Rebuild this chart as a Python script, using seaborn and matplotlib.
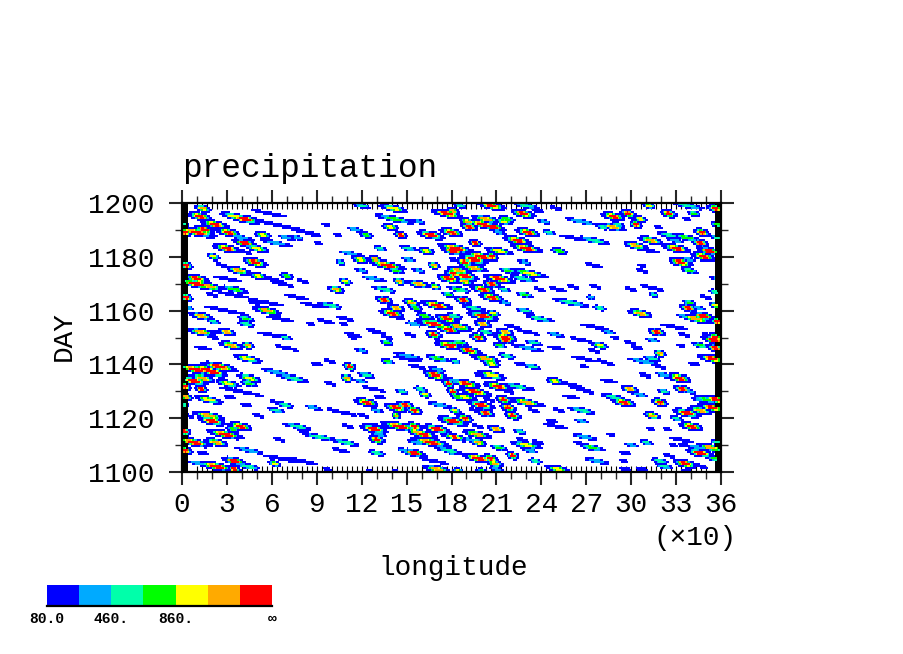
import numpy as np
import matplotlib
matplotlib.use("Agg")
import matplotlib.pyplot as plt
from matplotlib.colors import ListedColormap
import seaborn as sns

sns.set_theme(style="white")
plt.rcParams["font.family"] = ["Liberation Mono", "DejaVu Sans Mono"]

# precipitation cells: centre longitude, centre day, half length (deg), peak colour level
nw_lon = [14,12,35,42,22,15,10,31,2,2, 42,30,50,54,21,49,38,51,70,10, 10,19,3,35,3,57,13,43,21,43, 13,30,69,59,54,70,83,89,63,70, 77,40,39,27,30,59,67,81,20,34, 77,57,48,88,99,30,65,96,109,86, 108,22,59,114,130,137,5,106,96,120, 91,104,141,142,158,177,139,146,166,180, 116,123,132,151,163,181,181,113,119,129, 151,137,143,120,158,168,181,128,109,103, 145,135,158,169,178,184,135,153,178,170, 143,156,140,162,177,168,155,168,178,184, 168,146,126]
nw_day = [1198,1195,1195,1194,1192,1190,1189,1189,1192,1189, 1185,1183,1183,1188,1180,1178,1175,1173,1173,1172, 1170,1169,1177,1168,1165,1160,1158,1157,1156,1155, 1152,1152,1150,1196,1193,1191,1189,1188,1185,1187, 1187,1187,1182,1177,1172,1172,1170,1171,1166,1166, 1165,1163,1163,1162,1162,1160,1157,1156,1157,1155, 1155,1152,1151,1151,1152,1150,1161,1178,1192,1199, 1185,1188,1198,1194,1193,1196,1191,1188,1188,1189, 1190,1188,1183,1183,1182,1183,1182,1181,1179,1179, 1179,1177,1175,1175,1175,1177,1174,1172,1171,1168, 1171,1168,1170,1169,1172,1168,1164,1163,1166,1162, 1161,1161,1159,1158,1157,1155,1155,1151,1153,1154, 1156,1157,1153]
nw_len = [4,6,7,8,7,5,10,6,2,3, 6,7,6,4,3,6,6,4,3,6, 10,6,3,7,3,7,6,4,3,4, 7,4,3,9,9,9,7,3,8,4, 3,6,6,3,7,6,6,3,3,8, 6,9,3,6,6,11,7,4,4,2, 2,4,7,4,4,3,2,2,2,4, 2,2,7,10,3,8,4,3,7,6, 4,3,3,4,4,4,6,6,4,3, 3,9,4,3,3,3,4,6,3,4, 3,6,6,3,6,3,4,4,3,8, 4,3,6,4,6,9,4,4,6,3, 3,2,2]
nw_lvl = [6,7,5,7,7,7,7,7,3,7, 7,7,5,5,5,7,6,5,4,7, 7,6,7,4,7,6,6,4,3,3, 6,6,3,1,1,1,1,1,2,2, 2,2,1,1,1,1,1,1,1,1, 1,1,1,1,3,1,1,1,1,1, 1,1,1,1,1,1,2,3,1,3, 1,1,5,4,2,7,5,7,7,7, 2,4,3,3,5,7,7,2,5,6, 2,7,4,2,2,6,7,2,5,6, 6,3,6,5,7,4,7,6,4,7, 6,4,7,4,7,7,2,7,7,5, 3,1,1]

ne_lon = [207,186,230,181,228,250,238,191,203,217, 215,201,192,208,181,231,245,212,224,261, 275,242,267,288,281,288,291,298,306,303, 325,342,337,318,325,337,347,357,356,338, 312,196,183,182,212,230,252,200,195,207, 189,181,185,195,189,181,189,218,232,212, 228,185,201,207,215,229,239,251,261,276, 229,275,207,188,216,260,273,279,195,208, 229,239,201,201,182,185,203,216,221,231, 250,198,216,275,285,289,317,328,335,306, 315,300,310,318,307,307,303,313,313,330, 329,346,352,348,333,339,338,357,339,338, 345,356,350,356,348,343,335,357,356,357, 350]
ne_day = [1199,1199,1199,1197,1196,1198,1197,1193,1194,1194, 1193,1192,1191,1191,1189,1189,1189,1189,1186,1187, 1186,1193,1193,1195,1191,1191,1192,1196,1194,1192, 1196,1196,1194,1191,1188,1187,1189,1192,1198,1199, 1199,1185,1183,1182,1182,1183,1182,1180,1179,1180, 1178,1179,1175,1176,1173,1172,1171,1175,1174,1172, 1172,1168,1168,1170,1168,1166,1168,1168,1169,1169, 1178,1177,1165,1164,1163,1163,1165,1161,1161,1159, 1160,1157,1158,1155,1158,1154,1152,1152,1154,1152, 1151,1150,1150,1154,1152,1150,1152,1154,1151,1159, 1166,1168,1169,1168,1175,1177,1184,1186,1182,1183, 1186,1185,1182,1180,1178,1175,1179,1187,1163,1161, 1161,1162,1165,1167,1158,1157,1158,1156,1150,1172, 1151]
ne_len = [7,3,6,3,6,3,3,4,7,4, 4,8,4,6,4,6,3,3,7,7, 8,3,8,6,3,6,3,4,3,3, 4,3,2,2,6,7,4,3,4,8, 3,3,9,4,7,8,4,8,7,3, 4,2,6,7,7,2,4,4,9,8, 7,6,6,4,3,4,3,4,3,3, 3,4,6,4,3,9,2,3,6,3, 4,7,8,4,4,7,4,4,4,6, 4,4,6,7,3,2,4,7,3,6, 2,3,3,3,3,2,6,6,4,7, 4,4,6,6,6,4,3,3,3,4, 3,3,3,3,6,8,3,3,4,3, 2]
ne_lvl = [7,3,3,6,7,1,1,6,6,4, 5,7,7,7,6,7,3,2,7,1, 3,2,2,7,3,6,3,7,5,7, 7,4,1,1,3,4,7,4,7,3, 5,7,7,7,5,7,4,7,7,7, 7,1,6,6,7,7,6,4,5,7, 3,3,7,7,3,4,1,1,1,1, 2,1,7,7,2,3,2,3,3,5, 3,3,7,6,3,6,3,6,1,1, 2,7,7,1,2,1,7,1,1,6, 3,1,1,1,1,1,6,6,1,7, 2,7,7,7,7,4,2,3,4,7, 2,5,1,3,7,6,2,7,7,2, 1]

sw_lon = [21,69,33,44,14,70,44,21,9,16, 25,21,14,8,13,2,31,45,45,63, 74,40,18,3,2,32,63,69,43,63, 88,101,18,20,4,39,77,51,29,2, 34,92,109,65,81,8,23,2,45,14, 106,130,65,80,35,62,23,12,44,35, 99,90,112,110,123,120,137,99,119,128, 132,123,109,121,130,132,111,128,130,131, 143,149,155,143,145,155,170,156,161,137, 151,150,157,171,169,170,178,184,183,178, 181,184,162,159,147,172,182,180,182,166, 156,178,155,168,148,170,97,126,143,114, 168,152,44]
sw_day = [1150,1150,1147,1147,1146,1146,1142,1140,1138,1138, 1139,1137,1135,1134,1131,1132,1133,1135,1133,1137, 1135,1130,1127,1128,1125,1128,1126,1125,1125,1123, 1124,1123,1121,1119,1121,1117,1117,1121,1114,1115, 1116,1113,1111,1112,1115,1111,1111,1108,1108,1107, 1108,1107,1105,1104,1104,1103,1102,1103,1102,1101, 1141,1140,1139,1135,1136,1145,1148,1133,1134,1131, 1128,1126,1122,1121,1123,1117,1117,1116,1112,1114, 1124,1125,1123,1121,1117,1117,1116,1115,1114,1141, 1143,1142,1139,1142,1136,1138,1147,1148,1141,1133, 1130,1128,1129,1131,1130,1125,1123,1119,1113,1111, 1111,1108,1107,1104,1108,1101,1101,1100,1100,1150, 1151,1151,1125]
sw_len = [3,3,6,3,4,6,7,4,9,7, 9,7,6,7,3,3,6,6,4,7, 8,11,7,3,2,3,3,4,3,4, 4,3,8,7,3,6,7,3,9,3, 3,9,7,3,3,9,6,4,7,3, 4,4,9,8,6,3,9,6,6,3, 3,3,3,3,4,3,3,3,3,6, 3,6,6,3,3,7,3,7,4,4, 6,4,4,2,9,4,7,4,7,3, 7,7,4,6,6,4,7,2,2,3, 3,3,3,3,3,6,3,6,3,10, 4,7,6,7,3,7,2,2,2,2, 3,3,2]
sw_lvl = [1,1,6,6,1,1,5,1,7,7, 7,7,6,7,7,7,5,5,4,2, 3,1,5,6,3,1,1,3,1,3, 2,1,6,7,1,7,3,1,7,7, 4,3,3,1,1,7,6,7,2,1, 1,3,1,1,7,5,7,2,3,7, 1,1,7,6,3,2,4,1,2,1, 1,7,1,1,2,1,1,7,7,2, 7,7,7,6,7,7,7,6,7,4, 2,1,1,4,7,2,7,4,3,7, 7,4,5,3,3,2,5,7,7,7, 2,3,7,1,2,6,1,1,1,1, 5,1,1]

se_lon = [198,216,186,181,192,212,235,231,279,275, 267,250,314,289,299,304,319,333,355,346, 356,314,308,319,354,342,268,281,286,182, 203,217,207,226,234,269,199,207,183,190, 211,224,232,249,257,266,285,309,322,332, 299,322,334,339,181,196,189,205,218,215, 230,239,260,271,288,295,305,319,200,218, 182,203,221,196,235,267,252,314,337,354, 346,357,350,345,330,181,189,198,210,340, 267,250,247,226,324,182,197,186,198,192, 269,212,230,238,232,274,264,300,310,333, 335,345,353,346,357,221,198,206,180,236, 209,210,251,277,296,295,319,325,336,355, 322,296,307,201,185,256,339,347,227,286, 328,313]
se_day = [1150,1149,1148,1147,1145,1147,1148,1146,1147,1145, 1149,1146,1149,1150,1148,1146,1144,1147,1149,1147, 1146,1142,1141,1139,1142,1140,1142,1141,1140,1141, 1142,1143,1140,1140,1139,1139,1136,1136,1134,1133, 1132,1132,1131,1134,1133,1131,1134,1136,1136,1135, 1131,1130,1131,1130,1130,1130,1128,1127,1130,1127, 1126,1125,1128,1130,1128,1126,1129,1126,1125,1124, 1123,1122,1121,1123,1123,1123,1123,1121,1122,1124, 1123,1127,1127,1127,1120,1119,1120,1117,1116,1117, 1119,1117,1119,1115,1116,1113,1114,1112,1111,1112, 1113,1109,1110,1111,1108,1109,1111,1110,1111,1112, 1110,1109,1109,1107,1111,1106,1105,1105,1107,1104, 1103,1101,1101,1104,1107,1104,1104,1106,1103,1105, 1102,1101,1101,1100,1100,1100,1100,1102,1112,1114, 1110,1116]
se_len = [3,4,4,3,6,3,4,8,4,3, 6,4,3,2,3,3,3,2,6,4, 4,4,8,3,7,3,6,3,2,2, 7,4,4,3,4,2,3,7,6,7, 7,7,3,4,7,6,4,3,4,6, 4,3,4,3,3,8,6,3,3,4, 8,3,4,3,6,6,4,4,7,4, 3,4,4,3,3,7,3,4,7,7, 6,7,6,3,3,8,4,3,4,6, 3,6,3,3,2,7,7,3,4,3, 6,4,8,3,4,6,2,3,3,6, 3,6,7,7,3,3,8,4,2,3, 4,3,6,6,3,2,4,3,6,3, 4,3,3,3,3,6,4,3,3,2, 2,2]
se_lvl = [7,7,4,7,7,4,3,2,5,1, 1,1,2,1,1,1,6,1,7,4, 7,3,2,1,7,1,1,1,1,3, 6,3,5,1,3,1,1,5,2,7, 7,3,1,5,1,1,1,1,2,7, 6,3,7,2,7,7,5,1,1,7, 6,1,1,1,3,7,2,7,7,7, 5,7,7,1,1,3,1,6,7,7, 6,7,4,2,3,7,7,1,6,7, 2,1,1,3,1,5,6,1,6,2, 2,4,5,1,2,4,1,2,3,1, 1,2,6,7,3,7,7,7,2,3, 6,2,5,2,1,1,3,1,7,4, 3,1,1,5,6,1,1,1,1,1, 1,1]

lon_major = [0, 30, 60, 90, 120, 150, 180, 210, 240, 270, 300, 330, 360]
lon_labels = ["0", "3", "6", "9", "12", "15", "18", "21", "24", "27", "30", "33", "36"]
day_major = [1100, 1120, 1140, 1160, 1180, 1200]
level_colors = ["#0000ff", "#00aaff", "#00ffaa", "#00ff00", "#ffff00", "#ffaa00", "#ff0000"]
level_ticklabels = ["80.0", "460.", "860.", "\u221e"]
level_tickpos = [0, 2, 4, 7]

CELL_DAY = 0.75
n_rows, n_cols = int(100 / CELL_DAY), 360
day_to_row = lambda d: (1200 - np.asarray(d, float)) / CELL_DAY

field = np.zeros((n_rows, n_cols), dtype=float)
rows, cols = np.mgrid[0:n_rows, 0:n_cols]
lon_c = cols + 0.5
day_c = 1200 - (rows + 0.5) * CELL_DAY
for lons, days, lens, lvls in [(nw_lon, nw_day, nw_len, nw_lvl), (ne_lon, ne_day, ne_len, ne_lvl),
                               (sw_lon, sw_day, sw_len, sw_lvl), (se_lon, se_day, se_len, se_lvl)]:
    for lo, da, le, pk in zip(lons, days, lens, lvls):
        dl = (lon_c - lo) / (le * 1.35 + 0.5)
        hh = 0.65 + 0.14 * pk
        dd = (day_c - da + 0.11 * (lon_c - lo)) / hh
        r = np.sqrt(dl ** 2 + dd ** 2)
        core = np.clip(1 - r / 0.65, 0, 1)
        v = np.where(r < 1, np.minimum(pk, 1 + np.ceil(2.0 * (pk - 1) * core)), 0)
        field = np.maximum(field, v)

# dense contour band at the wrap-around longitudes
strip = np.zeros(n_cols, dtype=bool)
strip[:4] = True
strip[356:] = True
field[:, strip] = np.where(field[:, strip] >= 3, field[:, strip], 8)

fig = plt.figure(figsize=(9.04, 6.54), dpi=100, facecolor="white")
W, H = 904.0, 654.0
ax = fig.add_axes([182 / W, 1 - 472 / H, 539 / W, 269 / H])
cmap = ListedColormap(level_colors + ["#000000"])
sns.heatmap(field, mask=field == 0, cmap=cmap, vmin=0.5, vmax=8.5, cbar=False, ax=ax,
            xticklabels=False, yticklabels=False)
ax.collections[0].set_antialiased(False)
ax.collections[0].set_edgecolor("none")

for s in ax.spines.values():
    s.set_visible(True)
    s.set_color("black")
    s.set_linewidth(1.6)

ax.set_xticks(lon_major)
ax.set_xticklabels(lon_labels, fontsize=20, color="black")
ax.set_xticks(np.arange(0, 361, 10), minor=True)
ax.set_yticks(day_to_row(day_major))
ax.set_yticklabels([str(d) for d in day_major], fontsize=20, color="black", rotation=0)
ax.set_yticks(day_to_row(np.arange(1100, 1201, 10)), minor=True)
ax.tick_params(axis="x", which="major", direction="out", length=9.5, width=1.5, top=True, bottom=True, pad=5)
ax.tick_params(axis="x", which="minor", direction="out", length=5, width=1, top=True, bottom=True)
ax.tick_params(axis="y", which="major", direction="out", length=9.5, width=1.5, left=True, right=True, pad=10)
ax.tick_params(axis="y", which="minor", direction="out", length=5, width=1, left=True, right=True)

inner = np.arange(10, 351, 10 / 3)
for side in ("top", "bottom"):
    sec = ax.secondary_xaxis(side)
    sec.set_xticks(inner)
    sec.set_xticklabels([])
    sec.tick_params(direction="in", length=4, width=0.8, color="black")
    sec.spines[side].set_visible(False)

ax.set_xlabel("longitude", fontsize=20, color="black")
ax.xaxis.set_label_coords(0.503, -0.308)
ax.set_ylabel("DAY", fontsize=20, color="black")
ax.yaxis.set_label_coords((77 - 182) / 539, 0.505)
ax.text(0.952, -0.245, "(\u00d710)", transform=ax.transAxes, fontsize=20, ha="center", va="center", color="black")
ax.text(0.0, 1.13, "precipitation", transform=ax.transAxes, fontsize=23.6, ha="left", va="center", color="black")

cax = fig.add_axes([47 / W, 1 - 606 / H, 225 / W, 21 / H])
sns.heatmap(np.arange(1, 8, dtype=float).reshape(1, 7), cmap=ListedColormap(level_colors), vmin=0.5, vmax=7.5,
            cbar=False, ax=cax, xticklabels=False, yticklabels=False)
cax.collections[0].set_antialiased(False)
cax.set_xticks(level_tickpos)
cax.set_xticklabels(level_ticklabels, fontsize=10.5, fontweight="bold", color="black")
cax.tick_params(axis="x", which="major", direction="in", length=9, width=1.5, bottom=False, pad=4)
cax.set_xticks(np.arange(0, 8), minor=True)
cax.tick_params(axis="x", which="minor", direction="in", length=3, width=1, bottom=True)
cax.spines["bottom"].set_visible(True)
cax.spines["bottom"].set_linewidth(1.6)
cax.spines["bottom"].set_color("black")

fig.savefig("out.png", dpi=100)
